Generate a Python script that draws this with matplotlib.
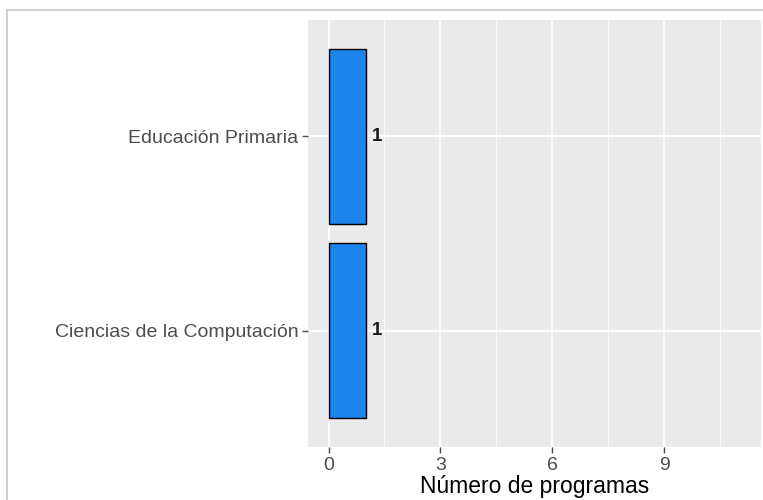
import matplotlib.pyplot as plt
from matplotlib.patches import Rectangle

programas = ["Ciencias de la Computación", "Educación Primaria"]
conteos = [1, 1]
x_ticks = [0, 3, 6, 9]
x_minor = [1.5, 4.5, 7.5, 10.5]

plt.rcParams['font.family'] = ['Liberation Sans', 'DejaVu Sans']

fig = plt.figure(figsize=(7.63, 5.0), dpi=100)
# screenshot frame
fig.patches.append(Rectangle((7 / 763, -0.1), 1.2, (490 / 500) + 0.1,
                             transform=fig.transFigure, fill=False,
                             edgecolor='#d0d0d0', linewidth=1.5))

ax = fig.add_axes([308 / 763, 53 / 500, (761 - 308) / 763, (447 - 20) / 500])
ax.set_facecolor('#ebebeb')

ypos = list(range(len(programas)))
ax.barh(ypos, conteos, height=0.9, color='#1c84ec', edgecolor='black',
        linewidth=1.0, zorder=3)
for y, v in zip(ypos, conteos):
    ax.text(v + 0.15, y, str(v), va='center', ha='left', fontsize=13.5,
            fontweight='bold', color='#1a1a1a', zorder=4)

ax.set_xlim(-0.55, 11.6)
ax.set_ylim(-0.6, len(programas) - 0.4)
ax.set_xticks(x_ticks)
ax.set_xticks(x_minor, minor=True)
ax.set_yticks(ypos)
ax.set_yticklabels(programas)

ax.grid(True, which='major', color='white', linewidth=1.3, zorder=0)
ax.grid(True, which='minor', axis='x', color='white', linewidth=0.6, zorder=0)
ax.set_axisbelow(True)
for s in ax.spines.values():
    s.set_visible(False)

ax.tick_params(axis='both', which='major', colors='#4d4d4d', labelsize=14,
               length=4, width=1.0, pad=3)
ax.tick_params(axis='both', which='minor', length=0)
ax.set_xlabel("Número de programas", fontsize=16.5, color='black', labelpad=1)

fig.savefig("out.png", dpi=100)
